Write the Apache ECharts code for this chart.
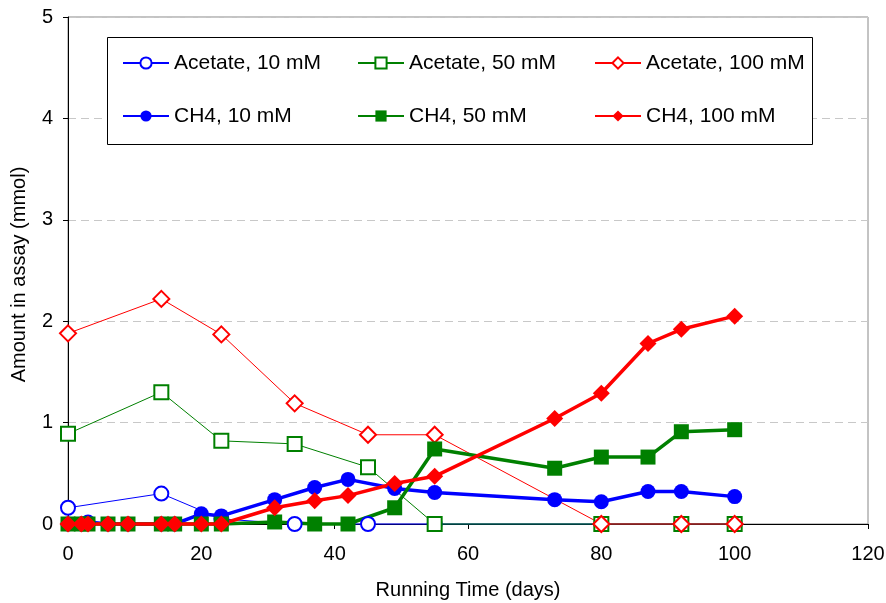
<!DOCTYPE html>
<html>
<head>
<meta charset="utf-8">
<script src="https://cdn.jsdelivr.net/npm/echarts@6/dist/echarts.min.js"></script>
<style>
  html, body { margin: 0; padding: 0; background: #fff; }
  #chart { width: 886px; height: 603px; }
</style>
</head>
<body>
<div id="chart"></div>
<script>
// Sampling days (x values)
const acetateDays = [0, 14, 23, 34, 45, 55, 80, 92, 100];
const ch4Days = [0, 2, 3, 6, 9, 14, 16, 20, 23, 31, 37, 42, 49, 55, 73, 80, 87, 92, 100];

// Acetate remaining in assay (mmol)
const acetate10 = [0.16, 0.30, 0.05, 0, 0, 0, 0, 0, 0];
const acetate50 = [0.89, 1.30, 0.82, 0.79, 0.56, 0, 0, 0, 0];
const acetate100 = [1.88, 2.22, 1.87, 1.19, 0.88, 0.88, 0, 0, 0];

// Methane produced (mmol)
const ch4_10 = [0, 0, 0.02, 0, 0, 0, 0, 0.10, 0.08, 0.24, 0.36, 0.44, 0.35, 0.31, 0.24, 0.22, 0.32, 0.32, 0.27];
const ch4_50 = [0, 0, 0, 0, 0, 0, 0, 0, 0, 0.02, 0, 0, 0.16, 0.74, 0.55, 0.66, 0.66, 0.91, 0.93];
const ch4_100 = [0, 0, 0, 0, 0, 0, 0, 0, 0, 0.16, 0.23, 0.28, 0.40, 0.47, 1.04, 1.29, 1.78, 1.92, 2.05];

// Axis ticks
const xTicks = { min: 0, max: 120, step: 20 };
const yTicks = { min: 0, max: 5, step: 1 };

const seriesNames = [
  'Acetate, 10 mM', 'Acetate, 50 mM', 'Acetate, 100 mM',
  'CH4, 10 mM', 'CH4, 50 mM', 'CH4, 100 mM'
];

const zip = (xs, ys) => xs.map((x, i) => [x, ys[i]]);

const FONT = '"Liberation Sans", Arial, sans-serif';
const BLUE = '#0000ff', GREEN = '#008000', RED = '#ff0000';

function openSeries(name, xs, ys, color, symbol, size) {
  return {
    name, type: 'line', data: zip(xs, ys),
    symbol, symbolSize: size, clip: false,
    lineStyle: { color, width: 1 },
    itemStyle: { color, borderColor: color, borderWidth: 1.5 },
    emphasis: { disabled: true }
  };
}
function filledSeries(name, xs, ys, color, symbol, size) {
  return {
    name, type: 'line', data: zip(xs, ys),
    symbol, symbolSize: size, clip: false,
    lineStyle: { color, width: 3.5 },
    itemStyle: { color },
    emphasis: { disabled: true }
  };
}

// Legend laid out as a framed 3 x 2 grid
const legendCols = [122, 357, 594];
const legendRows = [52, 105];
const legends = seriesNames.map((n, i) => ({
  data: [n],
  left: legendCols[i % 3],
  top: legendRows[Math.floor(i / 3)],
  padding: 0,
  itemWidth: 46,
  itemHeight: 14,
  selectedMode: false,
  z: 6,
  textStyle: { fontFamily: FONT, fontSize: 21, color: '#000', lineHeight: 22 }
}));

const chart = echarts.init(document.getElementById('chart'), null, { renderer: 'canvas' });
chart.setOption({
  animation: false,
  backgroundColor: '#fff',
  grid: {
    left: 68, right: 18, top: 17, bottom: 79,
    containLabel: false, outerBoundsMode: 'none',
    show: true, borderColor: '#888', borderWidth: 1, backgroundColor: 'transparent'
  },
  graphic: [{
    type: 'rect', z: 5,
    shape: { x: 107.5, y: 37.5, width: 705, height: 107 },
    style: { fill: '#fff', stroke: '#000', lineWidth: 1 }
  }],
  legend: legends,
  xAxis: {
    type: 'value', min: xTicks.min, max: xTicks.max, interval: xTicks.step,
    name: 'Running Time (days)', nameLocation: 'middle', nameGap: 56,
    nameTextStyle: { fontFamily: FONT, fontSize: 20, color: '#000' },
    axisLine: { lineStyle: { color: '#000', width: 1 } },
    axisTick: { show: true, inside: false, length: 5, lineStyle: { color: '#000' } },
    axisLabel: { fontFamily: FONT, fontSize: 20, color: '#000', margin: 20 },
    splitLine: { show: false }
  },
  yAxis: {
    type: 'value', min: yTicks.min, max: yTicks.max, interval: yTicks.step,
    name: 'Amount in assay (mmol)', nameLocation: 'middle', nameGap: 39,
    nameTextStyle: { fontFamily: FONT, fontSize: 20, color: '#000', padding: [0, 8, 0, 0] },
    axisLine: { show: true, lineStyle: { color: '#000', width: 1 } },
    axisTick: { show: true, inside: false, length: 5, lineStyle: { color: '#000' } },
    axisLabel: { fontFamily: FONT, fontSize: 20, color: '#000', margin: 15 },
    splitLine: { show: true, lineStyle: { color: '#c8c8c8', type: [8, 5], width: 1 } }
  },
  series: [
    openSeries(seriesNames[0], acetateDays, acetate10, BLUE, 'emptyCircle', 14),
    openSeries(seriesNames[1], acetateDays, acetate50, GREEN, 'emptyRect', 14),
    openSeries(seriesNames[2], acetateDays, acetate100, RED, 'emptyDiamond', 16),
    filledSeries(seriesNames[3], ch4Days, ch4_10, BLUE, 'circle', 15),
    filledSeries(seriesNames[4], ch4Days, ch4_50, GREEN, 'rect', 15),
    filledSeries(seriesNames[5], ch4Days, ch4_100, RED, 'diamond', 17)
  ]
});
</script>
</body>
</html>
